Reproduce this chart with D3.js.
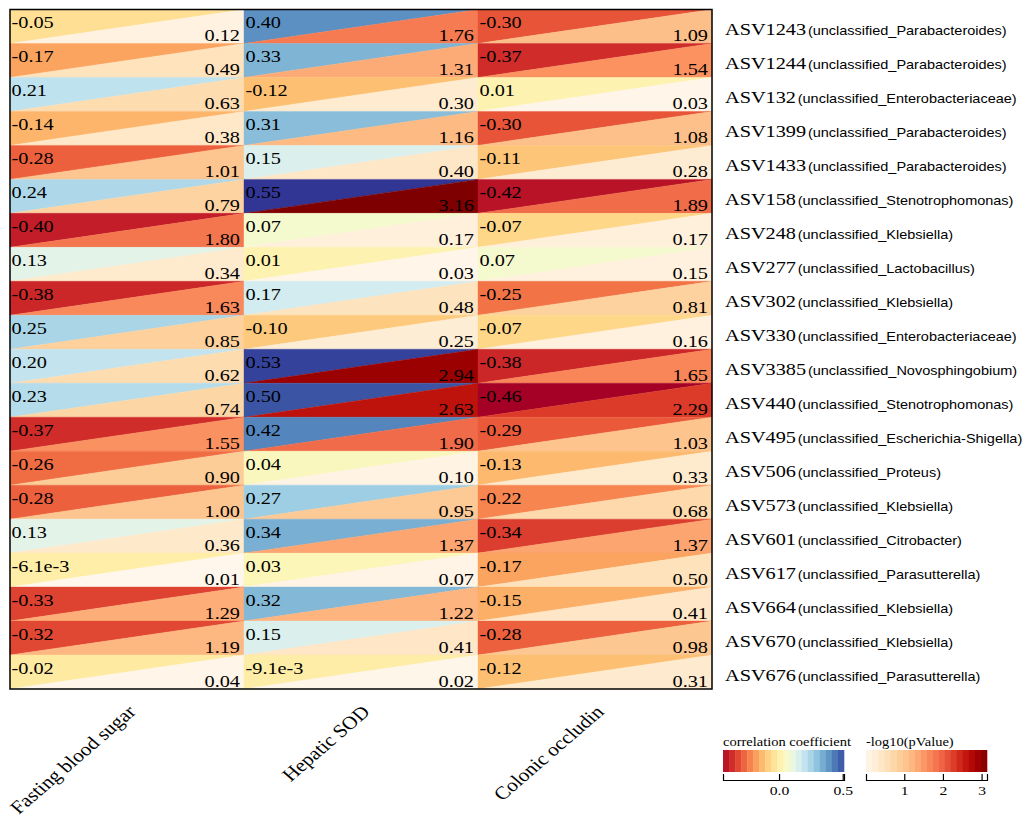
<!DOCTYPE html>
<html>
<head>
<meta charset="utf-8">
<script src="https://cdn.jsdelivr.net/npm/d3@7"></script>
<style>
  html, body { margin: 0; padding: 0; background: #fff; }
  svg { display: block; }
</style>
</head>
<body>
<svg id="chart" width="1029" height="828"></svg>
<script>
const asvIds = ["ASV1243","ASV1244","ASV132","ASV1399","ASV1433","ASV158","ASV248","ASV277","ASV302","ASV330",
  "ASV3385","ASV440","ASV495","ASV506","ASV573","ASV601","ASV617","ASV664","ASV670","ASV676"];
const taxa = ["(unclassified_Parabacteroides)","(unclassified_Parabacteroides)","(unclassified_Enterobacteriaceae)",
  "(unclassified_Parabacteroides)","(unclassified_Parabacteroides)","(unclassified_Stenotrophomonas)",
  "(unclassified_Klebsiella)","(unclassified_Lactobacillus)","(unclassified_Klebsiella)","(unclassified_Enterobacteriaceae)",
  "(unclassified_Novosphingobium)","(unclassified_Stenotrophomonas)","(unclassified_Escherichia-Shigella)",
  "(unclassified_Proteus)","(unclassified_Klebsiella)","(unclassified_Citrobacter)","(unclassified_Parasutterella)",
  "(unclassified_Klebsiella)","(unclassified_Klebsiella)","(unclassified_Parasutterella)"];
const columns = ["Fasting blood sugar","Hepatic SOD","Colonic occludin"];

const corrFasting = [-0.05,-0.17,0.21,-0.14,-0.28,0.24,-0.40,0.13,-0.38,0.25,0.20,0.23,-0.37,-0.26,-0.28,0.13,-0.0061,-0.33,-0.32,-0.02];
const pFasting    = [0.12,0.49,0.63,0.38,1.01,0.79,1.80,0.34,1.63,0.85,0.62,0.74,1.55,0.90,1.00,0.36,0.01,1.29,1.19,0.04];
const corrSOD     = [0.40,0.33,-0.12,0.31,0.15,0.55,0.07,0.01,0.17,-0.10,0.53,0.50,0.42,0.04,0.27,0.34,0.03,0.32,0.15,-0.0091];
const pSOD        = [1.76,1.31,0.30,1.16,0.40,3.16,0.17,0.03,0.48,0.25,2.94,2.63,1.90,0.10,0.95,1.37,0.07,1.22,0.41,0.02];
const corrOccludin= [-0.30,-0.37,0.01,-0.30,-0.11,-0.42,-0.07,0.07,-0.25,-0.07,-0.38,-0.46,-0.29,-0.13,-0.22,-0.34,-0.17,-0.15,-0.28,-0.12];
const pOccludin   = [1.09,1.54,0.03,1.08,0.28,1.89,0.17,0.15,0.81,0.16,1.65,2.29,1.03,0.33,0.68,1.37,0.50,0.41,0.98,0.31];

const corrLegendTicks = [0.0, 0.5];
const pLegendTicks = [1, 2, 3];

const corrByCol = [corrFasting, corrSOD, corrOccludin];
const pByCol = [pFasting, pSOD, pOccludin];

const cells = [];
columns.forEach((c, ci) => {
  asvIds.forEach((a, ri) => {
    cells.push({col: c, row: a, r: corrByCol[ci][ri], p: pByCol[ci][ri]});
  });
});

const SX = 1.16; // horizontal glyph stretch seen in reference
const serif = "'Liberation Serif', 'Times New Roman', serif";
const sans = "'Liberation Sans', Arial, sans-serif";

const svg = d3.select("#chart");
const x = d3.scaleBand().domain(columns).range([10, 712]);
const y = d3.scaleBand().domain(asvIds).range([9.5, 689]);

const corrColor = d3.scaleSequential(d3.interpolateRdYlBu).domain([-0.46, 0.55]);
const pColor = d3.scaleSequential(d3.interpolateOrRd).domain([0.0, 3.16]);

const hy = s => s.replace(/\u2212/g, "-");
const fmtR = v => hy((v !== 0 && Math.abs(v) < 0.01) ? d3.format(".1e")(v) : d3.format(".2f")(v));
const fmtP = v => hy(d3.format(".2f")(v));

const g = svg.append("g");
const cell = g.selectAll("g.cell").data(cells).join("g").attr("class", "cell");

cell.append("path")
  .attr("d", d => {
    const x0 = x(d.col), x1 = x0 + x.bandwidth(), y0 = y(d.row), y1 = y0 + y.bandwidth();
    return `M${x0},${y0}L${x1},${y0}L${x0},${y1}Z`;
  })
  .attr("fill", d => corrColor(d.r))
  .attr("stroke", d => corrColor(d.r)).attr("stroke-width", 0.4);

cell.append("path")
  .attr("d", d => {
    const x0 = x(d.col), x1 = x0 + x.bandwidth(), y0 = y(d.row), y1 = y0 + y.bandwidth();
    return `M${x1},${y0}L${x1},${y1}L${x0},${y1}Z`;
  })
  .attr("fill", d => pColor(d.p))
  .attr("stroke", d => pColor(d.p)).attr("stroke-width", 0.4);

cell.append("text")
  .attr("transform", d => `translate(${x(d.col) + 1.5},${y(d.row) + 18.8}) scale(${SX},1)`)
  .attr("font-family", serif).attr("font-size", 17.5).attr("fill", "#000")
  .text(d => fmtR(d.r));

cell.append("text")
  .attr("transform", d => `translate(${x(d.col) + x.bandwidth() - 4},${y(d.row) + y.bandwidth() - 2}) scale(${SX},1)`)
  .attr("font-family", serif).attr("font-size", 17.5).attr("fill", "#000")
  .attr("text-anchor", "end")
  .text(d => fmtP(d.p));

// border
svg.append("rect")
  .attr("x", x.range()[0]).attr("y", y.range()[0])
  .attr("width", x.range()[1] - x.range()[0]).attr("height", y.range()[1] - y.range()[0])
  .attr("fill", "none").attr("stroke", "#000").attr("stroke-width", 1.5);

// row labels
const rl = svg.append("g").selectAll("text").data(asvIds).join("text")
  .attr("transform", d => `translate(725,${y(d) + y.bandwidth() / 2 + 9}) scale(${SX},1)`)
  .attr("fill", "#000");
rl.append("tspan").attr("font-family", serif).attr("font-size", 17.5).text(d => d);
rl.append("tspan").attr("font-family", sans).attr("font-size", 12.5).attr("dx", 1.5)
  .text((d, i) => taxa[i]);

// column labels
svg.append("g").selectAll("text").data(columns).join("text")
  .attr("transform", d => `translate(${x(d) + x.bandwidth() / 2 + 10},${y.range()[1] + 24}) scale(${SX},1) rotate(-45)`)
  .attr("text-anchor", "end")
  .attr("font-family", serif).attr("font-size", 18.3).attr("fill", "#000")
  .text(d => d);

// legends
function legend(x0, x1, domain, colorFn, ticks, title, fmt) {
  const lg = svg.append("g");
  const sc = d3.scaleLinear().domain(domain).range([x0, x1]);
  const n = 20;
  const step = (domain[1] - domain[0]) / n;
  lg.selectAll("rect").data(d3.range(n)).join("rect")
    .attr("x", i => sc(domain[0] + i * step))
    .attr("width", i => sc(domain[0] + (i + 1) * step) - sc(domain[0] + i * step) + 0.3)
    .attr("y", 750).attr("height", 22)
    .attr("fill", i => colorFn(domain[0] + (i + 0.5) * step));
  const ax = lg.append("g").attr("transform", "translate(0,780)")
    .call(d3.axisBottom(sc).tickValues(ticks).tickFormat(fmt).tickSizeInner(-6).tickSizeOuter(-6).tickPadding(5));
  ax.selectAll("path, line").attr("stroke", "#000").attr("stroke-width", 1.2);
  ax.selectAll("text").attr("font-family", serif).attr("font-size", 13.5).attr("fill", "#000")
    .attr("transform", `scale(${SX},1)`);
  lg.append("text").attr("transform", `translate(${x0},746) scale(${SX},1)`)
    .attr("font-family", serif).attr("font-size", 12.5).attr("fill", "#000").text(title);
}
legend(723, 844, [-0.44, 0.51], corrColor, corrLegendTicks, "correlation coefficient", v => hy(d3.format(".1f")(v)));
legend(866, 987, [0.01, 3.14], pColor, pLegendTicks, "-log10(pValue)", d3.format("d"));
</script>
</body>
</html>
